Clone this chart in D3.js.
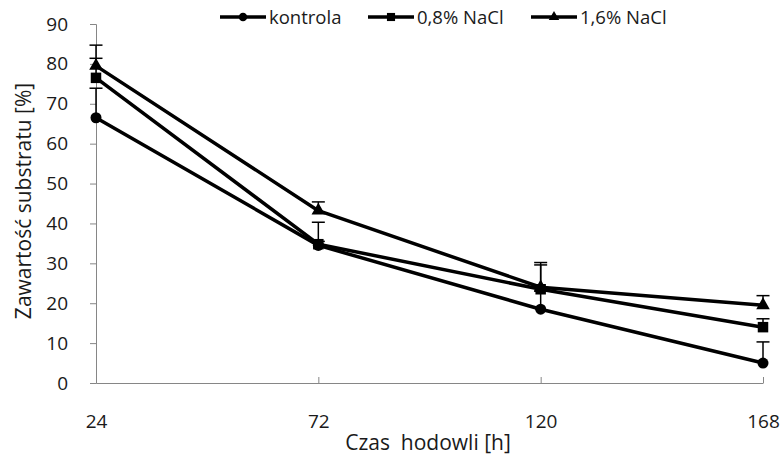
<!DOCTYPE html>
<html>
<head>
<meta charset="utf-8">
<script src="https://cdn.jsdelivr.net/npm/d3@7.9.0/dist/d3.min.js"></script>
<style>
  body { margin: 0; background: #fff; }
  svg { display: block; font-family: "Open Sans", sans-serif; }
</style>
</head>
<body>
<svg width="783" height="459"></svg>
<script>
const hours = [24, 72, 120, 168];
const seriesNames = ['kontrola', '0,8% NaCl', '1,6% NaCl'];
const kontrola = [66.5, 34.5, 18.5, 5];
const nacl08 = [76.5, 34.8, 23.5, 14];
const nacl16 = [79.5, 43.2, 24, 19.5];
const errKontrola = [7.4, 1, 4.5, 5.3];
const errNacl08 = [4.9, 5.5, 6.7, 2.1];
const errNacl16 = [5.2, 2.2, 5.6, 2.4];
const yTicks = [0, 10, 20, 30, 40, 50, 60, 70, 80, 90];

const series = [
  { name: seriesNames[0], values: kontrola, err: errKontrola, marker: d3.symbolCircle, size: 95 },
  { name: seriesNames[1], values: nacl08, err: errNacl08, marker: d3.symbolSquare, size: 110 },
  { name: seriesNames[2], values: nacl16, err: errNacl16, marker: d3.symbolTriangle, size: 80 }
];

const svg = d3.select('svg');
const x = d3.scaleLinear().domain([24, 168]).range([96, 763]);
const y = d3.scaleLinear().domain([0, 90]).range([383, 24]);
const axisColor = '#868686';
const textColor = '#1a1a1a';

// y axis
const yAxis = svg.append('g')
  .attr('transform', `translate(${x(24)},0)`)
  .call(d3.axisLeft(y).tickValues(yTicks).tickSize(6).tickPadding(22));
yAxis.select('.domain').attr('stroke', axisColor);
yAxis.selectAll('.tick line').attr('stroke', axisColor);
yAxis.selectAll('.tick text').attr('font-size', 19).attr('fill', textColor)
  .attr('font-family', '"Open Sans", sans-serif');

// x axis, ticks pointing up
const xAxis = svg.append('g')
  .attr('transform', `translate(0,${y(0)})`)
  .call(d3.axisBottom(x).tickValues(hours).tickSize(-6).tickPadding(0).tickSizeOuter(0));
xAxis.select('.domain').attr('stroke', axisColor);
xAxis.selectAll('.tick line').attr('stroke', axisColor);
xAxis.selectAll('.tick text').attr('font-size', 19).attr('fill', textColor)
  .attr('font-family', '"Open Sans", sans-serif')
  .attr('dy', 0).attr('y', 45);

// axis titles
svg.append('text')
  .attr('transform', 'translate(31,201) rotate(-90)')
  .attr('text-anchor', 'middle')
  .attr('font-size', 21).attr('fill', textColor)
  .text('Zawartość substratu [%]');

svg.append('text')
  .attr('x', 428).attr('y', 450)
  .attr('text-anchor', 'middle')
  .attr('font-size', 21).attr('fill', textColor)
  .style('white-space', 'pre')
  .text('Czas  hodowli [h]');

// error bars (plus direction only)
series.forEach(s => {
  const g = svg.append('g');
  s.values.forEach((v, i) => {
    const cx = x(hours[i]);
    const top = y(v + s.err[i]);
    g.append('line').attr('x1', cx).attr('x2', cx)
      .attr('y1', y(v)).attr('y2', top)
      .attr('stroke', '#000').attr('stroke-width', 1.5);
    g.append('line').attr('x1', cx - 6.5).attr('x2', cx + 6.5)
      .attr('y1', top).attr('y2', top)
      .attr('stroke', '#000').attr('stroke-width', 1.5);
  });
});

// lines and markers
const line = d3.line().x((d, i) => x(hours[i])).y(d => y(d));
series.forEach(s => {
  svg.append('path')
    .attr('d', line(s.values))
    .attr('fill', 'none').attr('stroke', '#000')
    .attr('stroke-width', 3.5).attr('stroke-linejoin', 'round');
  svg.append('g').selectAll('path')
    .data(s.values).join('path')
    .attr('transform', (d, i) => `translate(${x(hours[i])},${y(d)})`)
    .attr('d', d3.symbol().type(s.marker).size(s.size))
    .attr('fill', '#000');
});

// legend
const legendX = [220, 368, 531];
series.forEach((s, i) => {
  const g = svg.append('g').attr('transform', `translate(${legendX[i]},17)`);
  g.append('line').attr('x1', 0).attr('x2', 46).attr('y1', 0).attr('y2', 0)
    .attr('stroke', '#000').attr('stroke-width', 3.5);
  g.append('path').attr('transform', 'translate(23,0)')
    .attr('d', d3.symbol().type(s.marker).size(s.size * 0.6))
    .attr('fill', '#000');
  g.append('text').attr('x', 49).attr('y', 7)
    .attr('font-size', 18.5).attr('fill', textColor)
    .text(s.name);
});
</script>
</body>
</html>
